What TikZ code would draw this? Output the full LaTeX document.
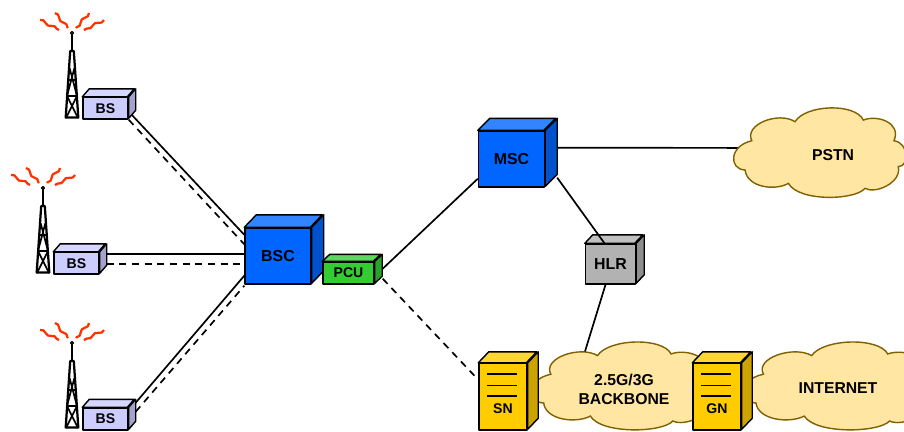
\documentclass[tikz,border=0pt]{standalone}
\usepackage{fontspec}
\setmainfont{Liberation Sans}
\usetikzlibrary{backgrounds,decorations.pathmorphing}

\definecolor{bluefront}{HTML}{0066FF}
\definecolor{bluetop}{HTML}{3385FF}
\definecolor{blueside}{HTML}{0052CC}
\definecolor{bsfront}{HTML}{CCCCFF}
\definecolor{bstop}{HTML}{D6D6FF}
\definecolor{bsside}{HTML}{A3A3CC}
\definecolor{pcufront}{HTML}{33CC33}
\definecolor{pcutop}{HTML}{5CD65C}
\definecolor{pcuside}{HTML}{29A329}
\definecolor{hlrfront}{HTML}{B2B2B2}
\definecolor{hlrtop}{HTML}{C1C1C1}
\definecolor{hlrside}{HTML}{8E8E8E}
\definecolor{snfront}{HTML}{FFCC00}
\definecolor{sntop}{HTML}{FFD633}
\definecolor{snside}{HTML}{CCA300}
\definecolor{cloudfill}{HTML}{FFE6A3}
\definecolor{cloudline}{HTML}{806000}
\definecolor{wavered}{HTML}{FF3300}

\tikzset{
  link/.style={line width=1.2pt},
  dashlink/.style={line width=1.2pt,dash pattern=on 5pt off 4pt},
  face/.style={draw,line width=1pt,line join=round},
  boxlabel/.style={font=\bfseries\fontsize{10}{12}\selectfont},
  biglabel/.style={font=\bfseries\fontsize{11.2}{13.5}\selectfont,align=center,inner sep=0pt},
  wave/.style={draw=wavered,line width=1.6pt,decorate,
    decoration={zigzag,segment length=9pt,amplitude=.9pt}},
}

% name, left, top, width, height, dx, dy, colour prefix, text
\newcommand{\cube}[9]{
  \node[face,fill=#8front,inner sep=0pt,minimum width=#4*.25mm,minimum height=#5*.25mm,boxlabel]
    (#1) at (#2+#4/2,#3+#5/2) {#9};
  \draw[face,fill=#8top] (#1.north west) -- ++(#6,-#7) -- ++(#4,0) -- ++(-#6,#7) -- cycle;
  \draw[face,fill=#8side] (#1.north east) -- ++(#6,-#7) -- ++(0,#5) -- ++(-#6,#7) -- cycle;
}

% x and y of the mast foot
\newcommand{\tower}[2]{
  \begin{scope}[shift={(#1,#2)},line join=round]
    \draw[line width=1.7pt] (0,-85) -- (0,-67);
    \draw[line width=.8pt,fill=white] (0,-85) circle (1.5);
    \draw[line width=1.6pt] (-1.8,-67) -- (-6.3,-.5) -- (6.3,-.5) -- (1.8,-67) -- cycle;
    \draw[line width=1.2pt] (-2.4,-50) -- (5,-22) -- (-6,0) (2.4,-50) -- (-5,-22) -- (6,0)
      (-5,-22) -- (5,-22) (-3.2,-38) -- (3.2,-38);
    \draw[wave] (-32,-98) -- (-13,-88);
    \draw[wave] (-17,-105) -- (-4,-90);
    \draw[wave] (17,-105) -- (4,-90);
    \draw[wave] (32,-98) -- (12,-88);
  \end{scope}
}

% centre x, centre y, x scale, y scale
\newcommand{\cloudshape}[4]{
  \draw[draw=cloudline,fill=cloudfill,line width=1pt,shift={(#1,#2)},xscale=#3,yscale=#4]
    (-201,-36)
    .. controls (-225,-85) and (-120,-125) .. (-71,-93)
    .. controls (-40,-145) and (110,-150) .. (134,-98)
    .. controls (175,-115) and (250,-90) .. (226,-36)
    .. controls (270,-30) and (275,40) .. (239,42)
    .. controls (250,90) and (170,125) .. (139,107)
    .. controls (110,143) and (-60,148) .. (-91,92)
    .. controls (-130,115) and (-215,105) .. (-221,52)
    .. controls (-270,50) and (-270,-20) .. (-201,-36)
    -- cycle;
}

\begin{document}
\begin{tikzpicture}[x=.25mm,y=-.25mm]
    \useasboundingbox (0,0) rectangle (904,431);
    \clip (0,0) rectangle (904,431);

    \cloudshape{818.7}{152.7}{.333}{.333}
    \cloudshape{623}{386}{.359}{.327}
    \cloudshape{838}{386}{.371}{.327}
    \node[biglabel] (pstn) at (833,155) {PSTN};
    \node[biglabel] (backbone) at (624,389) {2.5G/3G\\BACKBONE};
    \node[biglabel] (internet) at (838,388) {INTERNET};

    \tower{72}{118}
    \tower{43}{273}
    \tower{72}{428}

    \cube{bsa}{83}{97.5}{45}{21.5}{7}{8}{bs}{BS}
    \cube{bsb}{54}{252.5}{45}{21.5}{7}{8}{bs}{BS}
    \cube{bsc}{83}{408}{45}{22}{7}{8}{bs}{BS}
    \cube{bscontrol}{245}{228}{66}{56}{12}{12.5}{blue}{\fontsize{11.3}{13}\selectfont BSC}
    \cube{pcu}{323}{262}{51}{22}{7.5}{7}{pcu}{PCU}
    \cube{msc}{478.5}{131}{66}{56}{12}{12}{blue}{\fontsize{11.3}{13}\selectfont MSC}
    \cube{hlr}{585.5}{244}{50}{40}{8}{8.5}{hlr}{\fontsize{11.3}{13}\selectfont HLR}
    \cube{sn}{479}{363.5}{48}{66.5}{10.5}{11}{sn}{\raisebox{-34\dimexpr.25mm\relax}{SN}}
    \cube{gn}{693}{363.5}{48}{66.5}{10.5}{11}{sn}{\raisebox{-34\dimexpr.25mm\relax}{GN}}

    \foreach \boxname in {sn,gn}
      \foreach \linepos in {11,22.5,33}
        \draw[line width=1pt] ([shift={(8.5,\linepos)}]\boxname.north west) -- ++(30,0);

    \begin{scope}[on background layer]
      \draw[link] ([shift={(2,-6)}]bsa.south east) -- ([shift={(0,7.5)}]bscontrol.north west);
      \draw[dashlink] (bsa.south east) -- ([shift={(0,17)}]bscontrol.north west);
      \draw[link] ([shift={(0,2.5)}]bsb.north east) -- ([shift={(0,27)}]bscontrol.north west);
      \draw[dashlink] ([shift={(7,12.5)}]bsb.north east) -- ([shift={(0,37)}]bscontrol.north west);
      \draw[link] ([shift={(7,-28)}]bsc.south east) -- ([shift={(0,-9)}]bscontrol.south west);
      \draw[dashlink] ([shift={(7,-19)}]bsc.south east) -- ([shift={(0,1)}]bscontrol.south west);
      \draw[link] ([shift={(8,-16)}]pcu.south east) -- ([shift={(0,-9)}]msc.south west);
      \draw[dashlink] ([shift={(8,-6)}]pcu.south east) -- ([shift={(0,17)}]sn.north west);
      \draw[link] ([shift={(12,-40)}]msc.south east) -- (pstn.west |- 0,148);
      \draw[link] ([xshift=-5*.25mm]hlr.south) -- (backbone.north west);
    \end{scope}
    \draw[link] ([shift={(12,-10)}]msc.south east) -- ([shift={(-6,0)}]hlr.north);
\end{tikzpicture}
\end{document}
